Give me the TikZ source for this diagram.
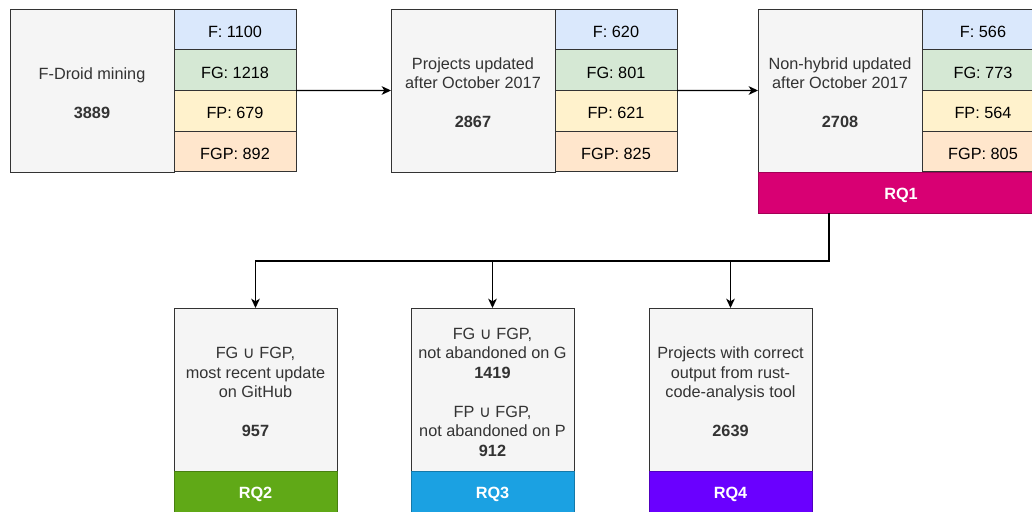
\documentclass[tikz,border=0pt]{standalone}
\usepackage{fontspec}
\setmainfont{Liberation Sans}
\newfontfamily\symfont{DejaVu Sans}
\usetikzlibrary{positioning,arrows.meta}
\definecolor{boxgray}{HTML}{F5F5F5}
\definecolor{txtgray}{HTML}{333333}
\definecolor{cF}{HTML}{DAE8FC}
\definecolor{cFG}{HTML}{D5E8D4}
\definecolor{cFP}{HTML}{FFF2CC}
\definecolor{cFGP}{HTML}{FFE6CC}
\definecolor{rqone}{HTML}{D80073}
\definecolor{rqtwo}{HTML}{60A917}
\definecolor{rqthree}{HTML}{1BA1E2}
\definecolor{rqfour}{HTML}{6A00FF}
\newcommand{\uni}{{\symfont ∪}}
\newcommand{\lift}{\rule{0pt}{12.3pt}}
\tikzset{f/.style={font=\fontsize{12.2}{14.6}\selectfont}}
\tikzset{every node/.style={f, inner sep=0pt, outer sep=0pt}}
\tikzset{stage/.style={draw=black!80, line width=0.75pt, fill=boxgray, text=txtgray, align=center, minimum width=123pt, minimum height=122.25pt}}
\tikzset{cnt/.style={draw=black!80, line width=0.75pt, fill=#1, minimum width=91.5pt, minimum height=30.56pt, execute at begin node=\lift}}
\tikzset{rq/.style={draw=#1!75!black, line width=0.75pt, fill=#1, text=white, font=\fontsize{12.2}{14.6}\selectfont\bfseries, minimum height=30.75pt, execute at begin node=\lift}}
\tikzset{arr/.style={draw=black, line width=0.95pt, -{Stealth[length=7pt,width=6.5pt,inset=2pt]}}}

\begin{document}
\begin{tikzpicture}[x=0.75pt, y=-0.75pt]
    \useasboundingbox (0,0) rectangle (1032,511);
    \node[stage, anchor=north west] (mine) at (10,9) {\lift F-Droid mining\\[14.6pt]\textbf{3889}};
    \node[cnt=cF, anchor=north west] (mineF) at (mine.north east) {F: 1100};
    \node[cnt=cFG, below=0pt of mineF] (mineFG) {FG: 1218};
    \node[cnt=cFP, below=0pt of mineFG] (mineFP) {FP: 679};
    \node[cnt=cFGP, below=0pt of mineFP] (mineFGP) {FGP: 892};

    \node[stage, anchor=north west] (upd) at (391,9) {\lift Projects updated\\after October 2017\\[14.6pt]\textbf{2867}};
    \node[cnt=cF, anchor=north west] (updF) at (upd.north east) {F: 620};
    \node[cnt=cFG, below=0pt of updF] (updFG) {FG: 801};
    \node[cnt=cFP, below=0pt of updFG] (updFP) {FP: 621};
    \node[cnt=cFGP, below=0pt of updFP] (updFGP) {FGP: 825};

    \node[stage, anchor=north west] (nonhyb) at (758,9) {\lift Non-hybrid updated\\after October 2017\\[14.6pt]\textbf{2708}};
    \node[cnt=cF, anchor=north west] (nonhybF) at (nonhyb.north east) {F: 566};
    \node[cnt=cFG, below=0pt of nonhybF] (nonhybFG) {FG: 773};
    \node[cnt=cFP, below=0pt of nonhybFG] (nonhybFP) {FP: 564};
    \node[cnt=cFGP, below=0pt of nonhybFP] (nonhybFGP) {FGP: 805};
    \node[rq=rqone, minimum width=214.5pt, anchor=north west] (rq1) at (nonhyb.south west) {RQ1};

    \node[stage, minimum width=122.25pt, anchor=north west] (github) at (174,308) {\lift FG \uni{} FGP,\\most recent update\\on GitHub\\[14.6pt]\textbf{957}};
    \node[rq=rqtwo, minimum width=122.25pt, below=0pt of github] (rq2) {RQ2};
    \node[stage, minimum width=122.25pt, anchor=north west] (alive) at (411,308) {\lift FG \uni{} FGP,\\not abandoned on G\\\textbf{1419}\\[14.6pt]FP \uni{} FGP,\\not abandoned on P\\\textbf{912}};
    \node[rq=rqthree, minimum width=122.25pt, below=0pt of alive] (rq3) {RQ3};
    \node[stage, minimum width=122.25pt, anchor=north west] (rca) at (649,308) {\lift Projects with correct\\output from rust-\\code-analysis tool\\[14.6pt]\textbf{2639}};
    \node[rq=rqfour, minimum width=122.25pt, below=0pt of rca] (rq4) {RQ4};

    \coordinate (split) at (829,261);
    \draw[arr] (mineFG.south east) -- (upd.west);
    \draw[arr] (updFG.south east) -- (nonhyb.west);
    \draw[arr] (rq1.south -| split) -- (split) -| (github.north);
    \draw[arr] (split) -| (alive.north);
    \draw[arr] (split) -| (rca.north);
\end{tikzpicture}
\end{document}
